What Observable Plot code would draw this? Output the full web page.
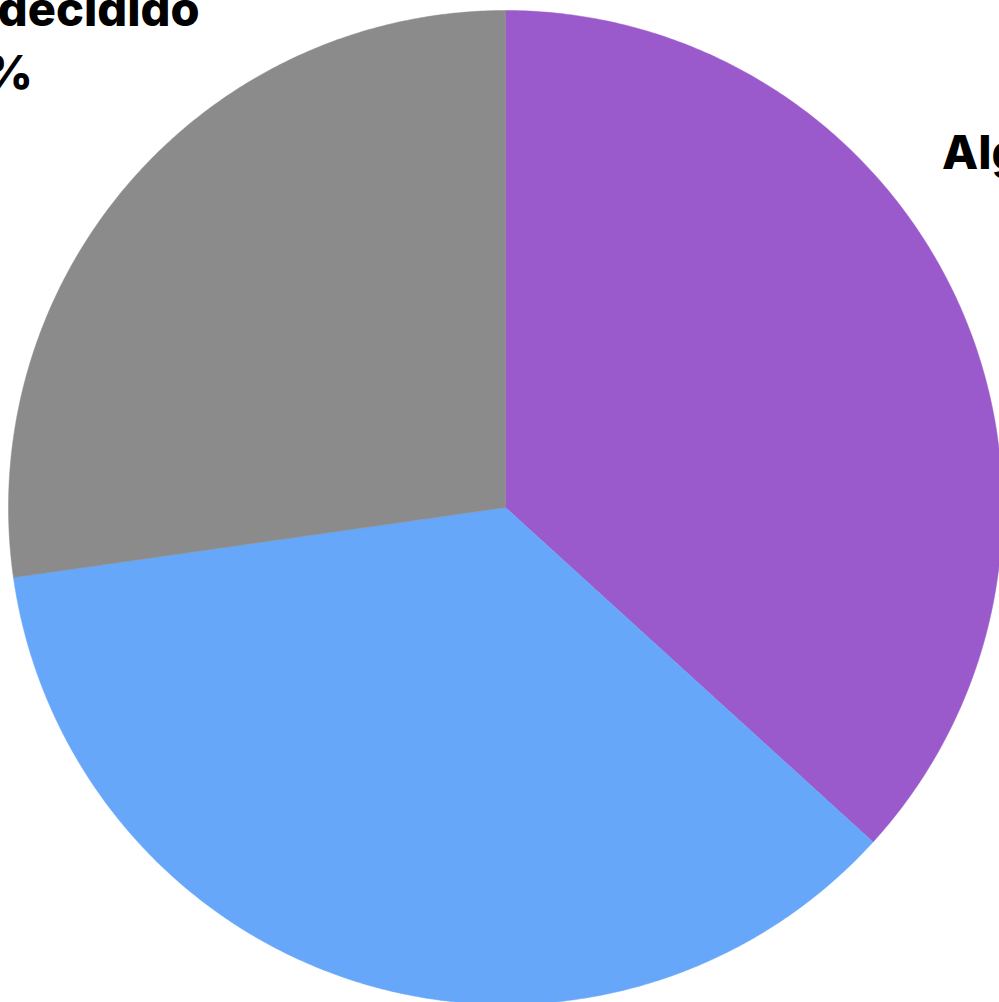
<!DOCTYPE html>
<html>
<head>
<meta charset="utf-8">
<script src="https://cdn.jsdelivr.net/npm/d3@7"></script>
<script src="https://cdn.jsdelivr.net/npm/@observablehq/plot@0.6"></script>
<style>
  html, body { margin: 0; padding: 0; background: #fff; overflow: hidden; }
  #chart svg { display: block; overflow: visible; }
</style>
</head>
<body>
<div id="chart"></div>
<script>
// Data
const categories = ["Algo preocupado", "Muy preocupado", "Todavía indecidido"];
const labelLines = ["Algo preocupado\npor el tema\n37%", "Muy preocupado\n36%", "Todavía indecidido\n27%"];
const values = [36.75, 36.0, 27.25];
const colors = ["#9a5acb", "#67a7f9", "#8b8b8b"];

const W = 999, H = 1002;
const cx = 505, cy = 507, R = 497;

// Build slice polygons in unit-circle data space from the values
const pie = d3.pie().sort(null).value(d => d.value);
const arcs = pie(categories.map((c, i) => ({category: c, value: values[i], label: labelLines[i]})));

const polyPoints = [];
arcs.forEach(a => {
  const cat = a.data.category;
  polyPoints.push({category: cat, u: 0, v: 0});
  const n = 240;
  for (let k = 0; k <= n; k++) {
    const t = a.startAngle + (a.endAngle - a.startAngle) * k / n;
    polyPoints.push({category: cat, u: Math.sin(t), v: Math.cos(t)});
  }
  polyPoints.push({category: cat, u: 0, v: 0});
});

const labelPts = arcs.map(a => {
  const t = (a.startAngle + a.endAngle) / 2;
  return {category: a.data.category, label: a.data.label, u: 1.4 * Math.sin(t), v: 1.4 * Math.cos(t)};
});

const chart = Plot.plot({
  width: W,
  height: H,
  margin: 0,
  x: {domain: [-cx / R, (W - cx) / R], axis: null},
  y: {domain: [(cy - H) / R, cy / R], axis: null},
  color: {domain: categories, range: colors},
  marks: [
    Plot.line(polyPoints, {x: "u", y: "v", z: "category", fill: "category", stroke: "category", strokeWidth: 0.5, curve: "linear"}),
    Plot.text(labelPts, {
      x: "u", y: "v", text: "label", dy: -14,
      textAnchor: "middle", lineAnchor: "middle", lineHeight: 1.34,
      fontSize: 47, fontWeight: 800, fill: "#000",
      fontFamily: "Inter, 'Open Sans', sans-serif"
    })
  ]
});
document.getElementById("chart").appendChild(chart);
</script>
</body>
</html>
